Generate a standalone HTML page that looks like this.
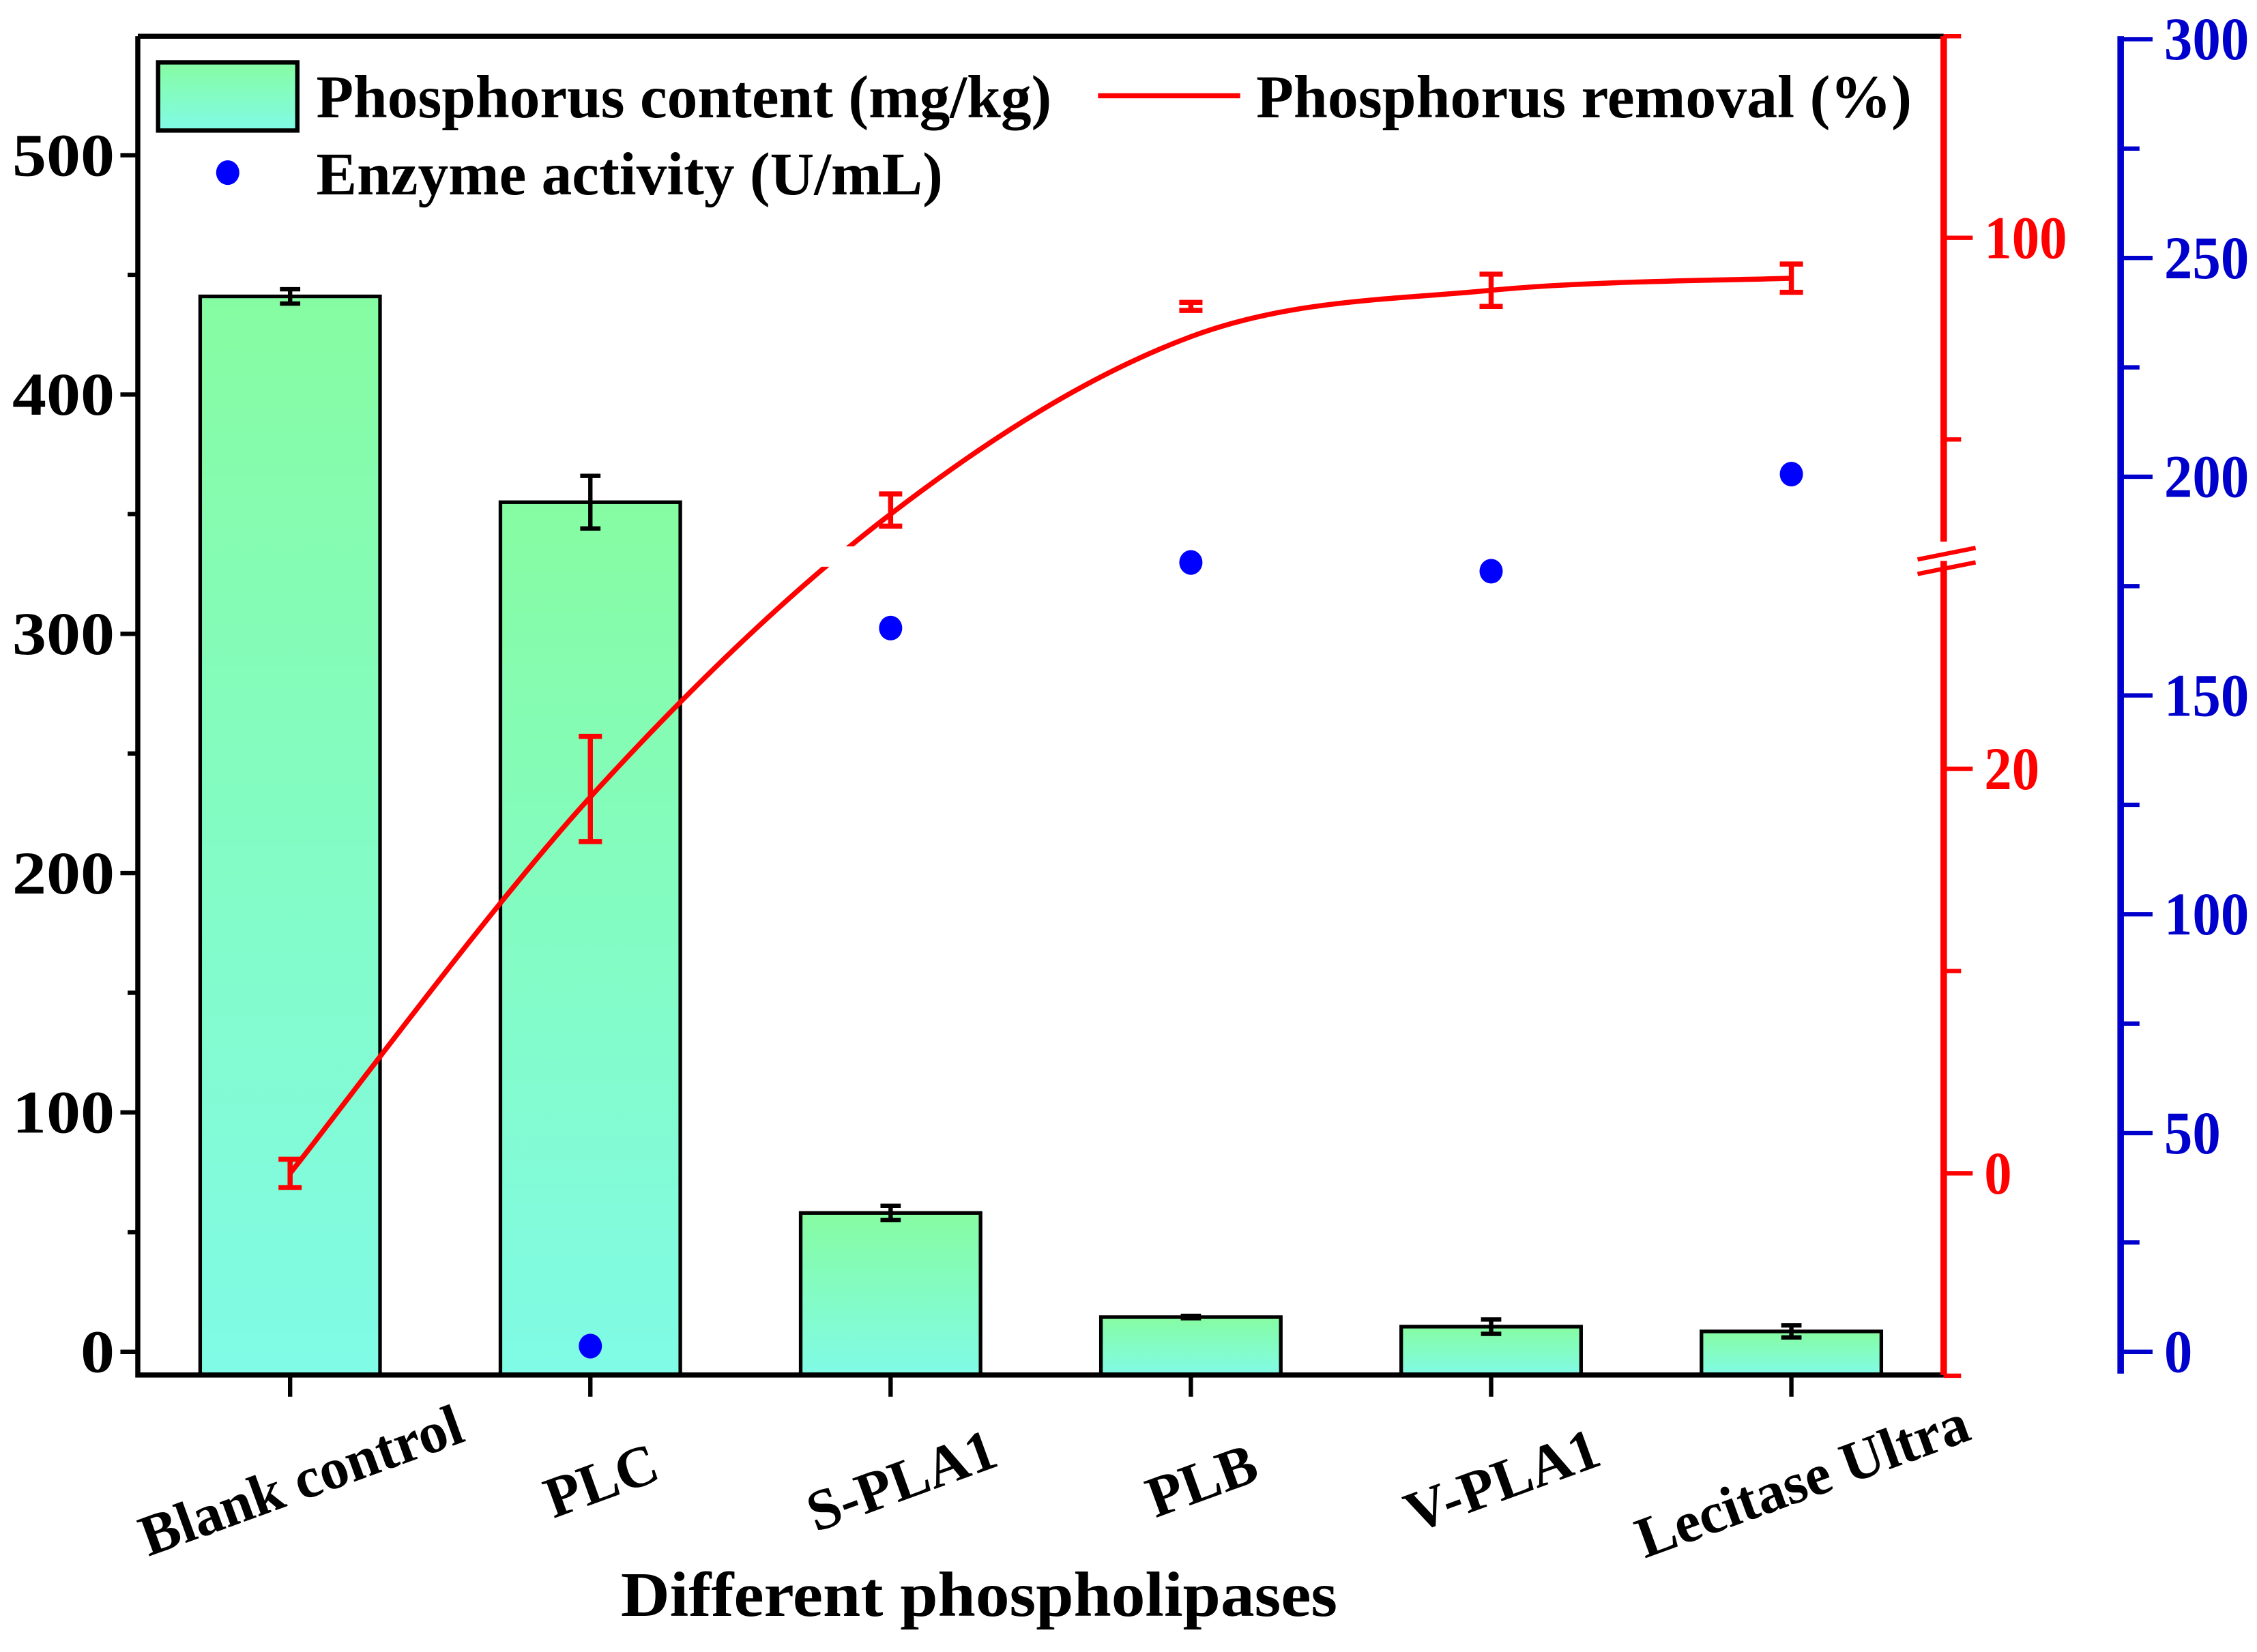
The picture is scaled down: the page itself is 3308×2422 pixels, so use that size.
<!DOCTYPE html>
<html><head><meta charset="utf-8"><style>
html,body{margin:0;padding:0;background:#fff;}
svg{display:block;font-family:"Liberation Serif",serif;font-weight:bold;}
</style></head><body>
<svg id="chart" width="3308" height="2422" viewBox="0 0 1556 1139" preserveAspectRatio="none" xmlns="http://www.w3.org/2000/svg">
<defs>
<linearGradient id="barGrad" x1="0" y1="0" x2="0" y2="1">
<stop offset="0" stop-color="#86fca2"/><stop offset="1" stop-color="#80fbe6"/>
</linearGradient>
</defs>
<g id="plot"></g>
</svg>
<script>
const categories = ["Blank control","PLC","S-PLA1","PLB","V-PLA1","Lecitase Ultra"];
const contentValues = [441, 355, 58, 14.5, 10.5, 8.5];
const contentErrors = [3, 11, 3, 0.5, 3, 2.5];
const removalValues = [0, 19, 86.5, 96.6, 97.4, 98];
const removalErrors = [0.7, 2.6, 0.8, 0.2, 0.8, 0.7];
const removalFit = [0, 18.6, 86.3, 95.1, 97.4, 98];
const activityValues = [null, 1.3, 165.4, 180.4, 178.4, 200.6];
const leftTicks = [0,100,200,300,400,500];
const redTicksLow = [0,20];
const redTicksHigh = [100];
const blueTicks = [0,50,100,150,200,250,300];

const NS = "http://www.w3.org/2000/svg";
const g = document.getElementById('plot');
function el(tag, attrs, parent){const e=document.createElementNS(NS,tag);for(const k in attrs)e.setAttribute(k,attrs[k]);(parent||g).appendChild(e);return e;}

const X0=95, X1=1340, YB=948, YT=25;
const xc = i => 200 + i*207;
const yL = v => 932 - v*1.65;
const BREAK_LOW=30.7, BREAK_HIGH=84.5;
const yR = v => v<=BREAK_LOW ? 809 - v*13.95 : 164 - (v-100)*13.9;
const yB = v => 932 - v*(905/300);
const digitW = 23.5;

categories.forEach((c,i)=>{
  const r=el('rect',{x:xc(i)-62,y:yL(contentValues[i]),width:124,height:YB-yL(contentValues[i]),fill:'url(#barGrad)',stroke:'#000','stroke-width':2.5});
  
  
  const t=yL(contentValues[i]+contentErrors[i]), b=yL(contentValues[i]-contentErrors[i]);
  const e=el('path',{d:`M${xc(i)},${t}V${b}M${xc(i)-7},${t}H${xc(i)+7}M${xc(i)-7},${b}H${xc(i)+7}`,stroke:'#000','stroke-width':3,fill:'none'});
  
  
});

const pts = removalFit.map((v,i)=>[xc(i),yR(v)]);
let d=`M${pts[0][0]},${pts[0][1]}`;
for(let i=0;i<pts.length-1;i++){
  const p0=pts[Math.max(i-1,0)],p1=pts[i],p2=pts[i+1],p3=pts[Math.min(i+2,pts.length-1)];
  const c1=[p1[0]+(p2[0]-p0[0])/6,p1[1]+(p2[1]-p0[1])/6];
  const c2=[p2[0]-(p3[0]-p1[0])/6,p2[1]-(p3[1]-p1[1])/6];
  d+=`C${c1[0]},${c1[1]} ${c2[0]},${c2[1]} ${p2[0]},${p2[1]}`;
}
const line=el('path',{d:d,stroke:'#ff0000','stroke-width':3.5,fill:'none'});


const gap=el('rect',{x:560,y:yR(BREAK_LOW)-4,width:50,height:14,fill:'#fff'});



removalValues.forEach((v,i)=>{
  const t=yR(v+removalErrors[i]), b=yR(v-removalErrors[i]);
  const e=el('path',{d:`M${xc(i)},${t}V${b}M${xc(i)-8},${t}H${xc(i)+8}M${xc(i)-8},${b}H${xc(i)+8}`,stroke:'#ff0000','stroke-width':3.5,fill:'none'});
  
  
});

activityValues.forEach((v,i)=>{
  if(v===null)return;
  const c=el('ellipse',{cx:xc(i),cy:yB(v),rx:8,ry:8.5,fill:'#0000ff'});
  
  
});

const fr=el('path',{d:`M${X0},${YT}H${X1}M${X0},${YT}V${YB}H${X1}`,stroke:'#000','stroke-width':3.5,fill:'none'});


leftTicks.forEach(v=>{
  const y=yL(v);
  el('line',{x1:X0-12,y1:y,x2:X0,y2:y,stroke:'#000','stroke-width':3});
  const s=String(v);
  const t=el('text',{x:X0-16,y:y+14,'text-anchor':'end','font-size':42,fill:'#000',textLength:s.length*digitW,lengthAdjust:'spacingAndGlyphs'});
  t.textContent=s;
  
  
  if(v<500){const m=yL(v+50);el('line',{x1:X0-7,y1:m,x2:X0,y2:m,stroke:'#000','stroke-width':3});}
});
categories.forEach((c,i)=>{
  el('line',{x1:xc(i),y1:YB,x2:xc(i),y2:YB+15,stroke:'#000','stroke-width':3});
  const t=el('text',{x:xc(i)+8,y:YB+86,'text-anchor':'middle','font-size':40,fill:'#000',transform:`rotate(-20 ${xc(i)+8} ${YB+74})`});
  t.textContent=c;
  
  
});
const xt=el('text',{x:675,y:1114,'text-anchor':'middle','font-size':44,fill:'#000',textLength:494,lengthAdjust:'spacingAndGlyphs'});
xt.textContent='Different phospholipases';



const ra=el('path',{d:`M${X1},${YB}V${yR(BREAK_LOW)+6}M${X1},${yR(BREAK_HIGH)-6}V${YT}`,stroke:'#ff0000','stroke-width':4.5,fill:'none'});


const br=el('path',{d:`M1322,${yR(BREAK_LOW)+5}L1362,${yR(BREAK_LOW)-3}M1322,${yR(BREAK_LOW)+15}L1362,${yR(BREAK_LOW)+7}`,stroke:'#ff0000','stroke-width':3,fill:'none'});


[...redTicksLow,...redTicksHigh].forEach(v=>{
  const y=yR(v);
  el('line',{x1:X1,y1:y,x2:X1+20,y2:y,stroke:'#ff0000','stroke-width':3});
  const s=String(v);
  const t=el('text',{x:X1+28,y:y+14,'font-size':42,fill:'#ff0000',textLength:s.length*19,lengthAdjust:'spacingAndGlyphs'});
  t.textContent=s;
  
  
});
[-10,10,90,110].forEach(v=>{const y=yR(v);el('line',{x1:X1,y1:y,x2:X1+12,y2:y,stroke:'#ff0000','stroke-width':3});});

const BX=1462;
const ba=el('line',{x1:BX,y1:yB(-5),x2:BX,y2:yB(300)-2,stroke:'#0000cc','stroke-width':4.5});


blueTicks.forEach(v=>{
  const y=yB(v);
  el('line',{x1:BX,y1:y,x2:BX+22,y2:y,stroke:'#0000cc','stroke-width':3});
  const s=String(v);
  const t=el('text',{x:BX+30,y:y+14,'font-size':42,fill:'#0000cc',textLength:s.length*19.5,lengthAdjust:'spacingAndGlyphs'});
  t.textContent=s;
  
  
  if(v<300){const m=yB(v+25);el('line',{x1:BX,y1:m,x2:BX+13,y2:m,stroke:'#0000cc','stroke-width':3});}
});

const lg=el('g',{});


el('rect',{x:109,y:43,width:96,height:47,fill:'url(#barGrad)',stroke:'#000','stroke-width':3},lg);
const l1=el('text',{x:218,y:81,'font-size':42,fill:'#000',textLength:507,lengthAdjust:'spacingAndGlyphs'},lg);
l1.textContent='Phosphorus content (mg/kg)';


el('line',{x1:757,y1:66,x2:855,y2:66,stroke:'#ff0000','stroke-width':3.5},lg);
const l2=el('text',{x:866,y:81,'font-size':42,fill:'#000',textLength:452,lengthAdjust:'spacingAndGlyphs'},lg);
l2.textContent='Phosphorus removal (%)';


el('ellipse',{cx:157,cy:119,rx:8,ry:8.5,fill:'#0000ff'},lg);
const l3=el('text',{x:218,y:134,'font-size':42,fill:'#000',textLength:432,lengthAdjust:'spacingAndGlyphs'},lg);
l3.textContent='Enzyme activity (U/mL)';


</script>
</body></html>
